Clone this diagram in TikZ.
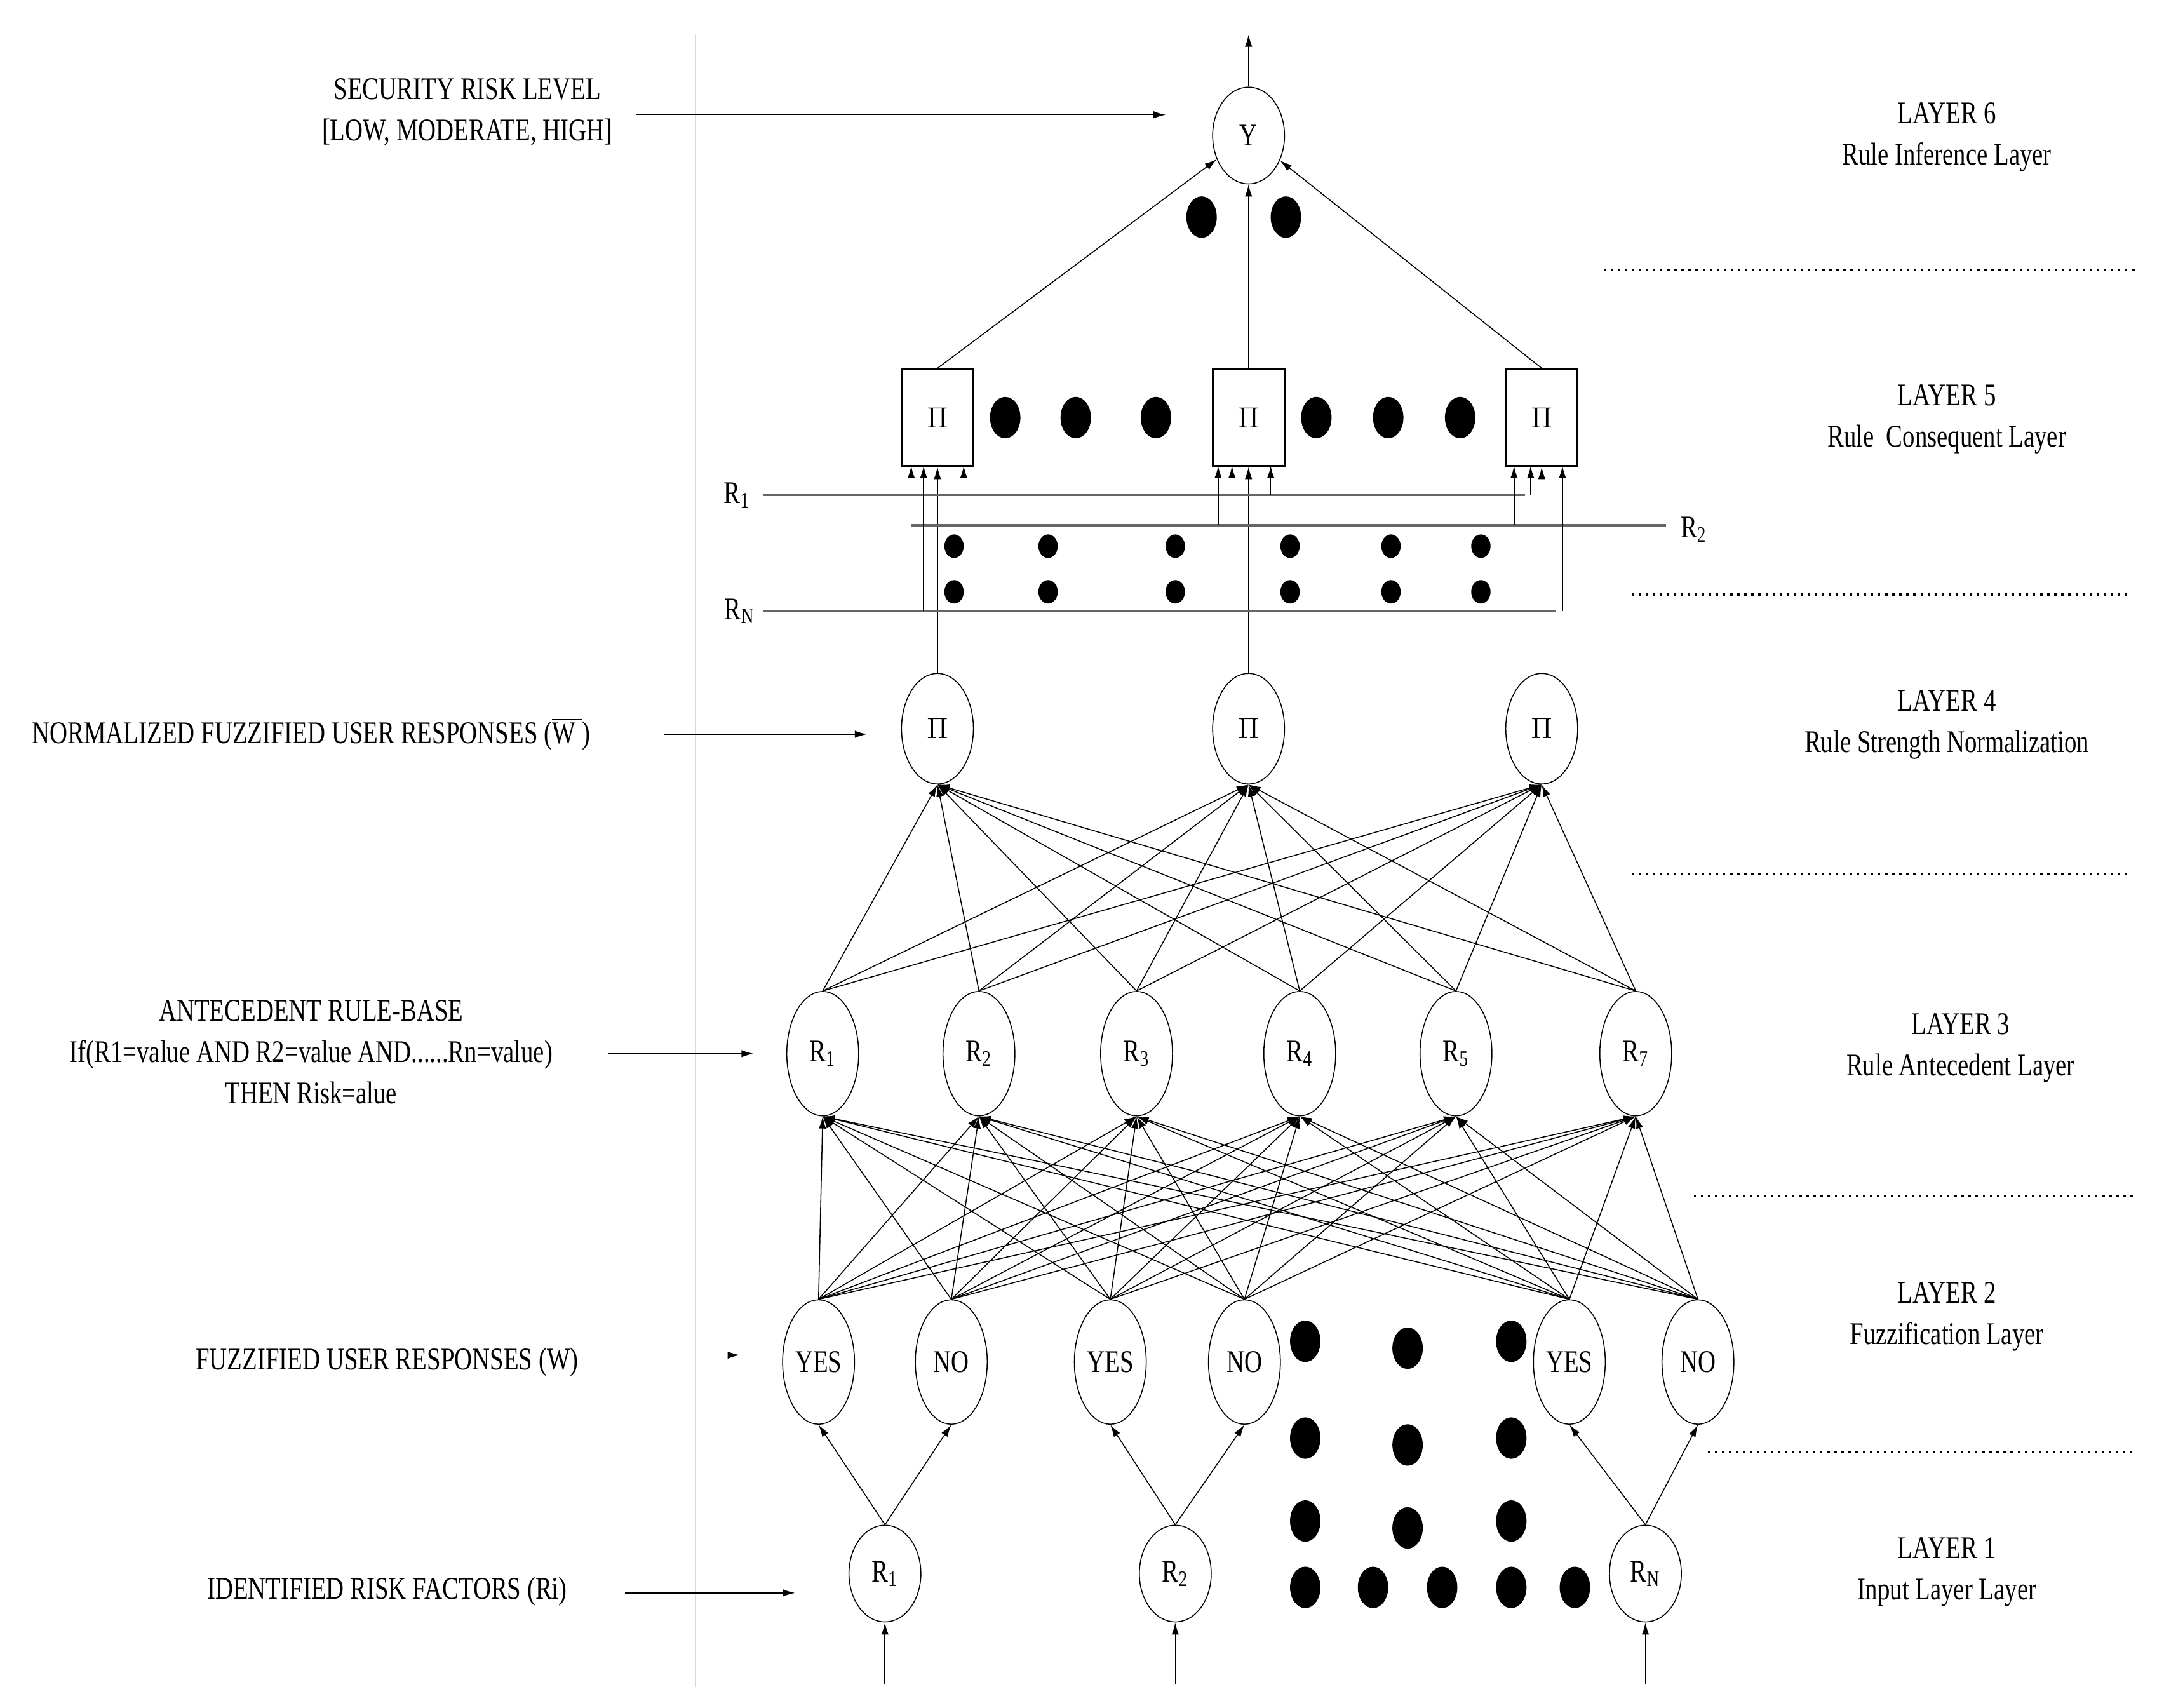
\documentclass[tikz,border=0pt]{standalone}
\usepackage{fontspec}
\setmainfont{Liberation Serif}[FakeStretch=0.78]
\usetikzlibrary{arrows.meta,shapes.geometric}
\begin{document}
\begin{tikzpicture}[x=0.02cm,y=-0.02cm,
  every node/.style={font=\fontsize{13}{15}\selectfont},
  e1/.style={draw,ellipse,minimum width=1.04cm,minimum height=1.4cm,inner sep=0pt},
  e2/.style={draw,ellipse,minimum width=1.04cm,minimum height=1.8cm,inner sep=0pt},
  e4/.style={draw,ellipse,minimum width=1.04cm,minimum height=1.6cm,inner sep=0pt},
  bx/.style={draw,thick,minimum width=1.04cm,minimum height=1.4cm,inner sep=0pt},
  dot/.style={fill,ellipse,minimum width=0.44cm,minimum height=0.6cm,inner sep=0pt},
  sdot/.style={fill,ellipse,minimum width=0.28cm,minimum height=0.34cm,inner sep=0pt},
  con/.style={-{Latex[length=5pt,width=3pt]}},
  rl/.style={draw=black!60,line width=1pt},
  sep/.style={dotted,line width=0.9pt},
  lbl/.style={align=center}]
\useasboundingbox (0,0) rectangle (1560,1235);
\draw[black!15] (503,25) -- (503,1220);
% Layer 1
\node[e1] (a1) at (640,1138) {R\textsubscript{1}};
\node[e1] (a2) at (850,1138) {R\textsubscript{2}};
\node[e1] (a3) at (1190,1138) {R\textsubscript{N}};
\coordinate (i1) at (640,1218); \coordinate (i2) at (850,1218); \coordinate (i3) at (1190,1218);
\foreach \k in {1,2,3} \draw[con] (i\k) -- (a\k);
% Layer 2
\node[e2] (b1) at (592,985) {YES};
\node[e2] (b2) at (688,985) {NO};
\node[e2] (b3) at (803,985) {YES};
\node[e2] (b4) at (900,985) {NO};
\node[e2] (b5) at (1135,985) {YES};
\node[e2] (b6) at (1228,985) {NO};
\draw[con] (a1.north) -- (b1.south); \draw[con] (a1.north) -- (b2.south);
\draw[con] (a2.north) -- (b3.south); \draw[con] (a2.north) -- (b4.south);
\draw[con] (a3.north) -- (b5.south); \draw[con] (a3.north) -- (b6.south);
% Layer 3
\node[e2] (c1) at (595,762) {R\textsubscript{1}};
\node[e2] (c2) at (708,762) {R\textsubscript{2}};
\node[e2] (c3) at (822,762) {R\textsubscript{3}};
\node[e2] (c4) at (940,762) {R\textsubscript{4}};
\node[e2] (c5) at (1053,762) {R\textsubscript{5}};
\node[e2] (c6) at (1183,762) {R\textsubscript{7}};
\foreach \i in {1,...,6}{\foreach \j in {1,...,6}{\draw[con] (b\i.north) -- (c\j.south);}}
% Layer 4
\node[e4] (d1) at (678,527) {$\Pi$};
\node[e4] (d2) at (903,527) {$\Pi$};
\node[e4] (d3) at (1115,527) {$\Pi$};
\foreach \i in {1,...,6}{\foreach \j in {1,2,3}{\draw[con] (c\i.north) -- (d\j.south);}}
% Layer 5
\node[bx] (p1) at (678,302) {$\Pi$};
\node[bx] (p2) at (903,302) {$\Pi$};
\node[bx] (p3) at (1115,302) {$\Pi$};
\foreach \j in {1,2,3}\draw[con] (d\j.north) -- (p\j.south);
% rule lines
\draw[rl] (552,358) -- (1103,358);
\draw[rl] (659,380) -- (1205,380);
\draw[rl] (552,442) -- (1125,442);
\node at (533,358) {R\textsubscript{1}};
\node at (1225,383) {R\textsubscript{2}};
\node at (535,442) {R\textsubscript{N}};
\foreach \x/\y in {659/380,668/442,697/358,881/380,891/442,919/358,1095/380,1107/358,1130/442}
  \draw[con] (\x,\y) -- (\x,337);
\foreach \x in {690,758,850,933,1006,1071}{\node[sdot] at (\x,395) {}; \node[sdot] at (\x,428) {};}
\foreach \x in {727,778,836,952,1004,1056} \node[dot] at (\x,302) {};
% Layer 6
\node[e1] (y) at (903,98) {Y};
\draw[con] (p1.north) -- (y);
\draw[con] (p2.north) -- (y);
\draw[con] (p3.north) -- (y);
\coordinate (out) at (903,25);
\draw[con] (y) -- (out);
\node[dot] at (869,157) {}; \node[dot] at (930,157) {};
% dots in lower region
\foreach \x/\y in {944/970,1018/975,1093/970,944/1040,1018/1045,1093/1040,944/1100,1018/1105,1093/1100,944/1148,993/1148,1043/1148,1093/1148,1139/1148}
  \node[dot] at (\x,\y) {};
% separators
\draw[sep] (1160,195) -- (1545,195);
\draw[sep] (1180,430) -- (1540,430);
\draw[sep] (1180,632) -- (1540,632);
\draw[sep] (1225,865) -- (1545,865);
\draw[sep] (1235,1050) -- (1545,1050);
% right labels
\node[lbl] at (1408,99) {LAYER 6\\[2pt]Rule Inference Layer};
\node[lbl] at (1408,303) {LAYER 5\\[2pt]Rule\ \ Consequent Layer};
\node[lbl] at (1408,524) {LAYER 4\\[2pt]Rule Strength Normalization};
\node[lbl] at (1418,758) {LAYER 3\\[2pt]Rule Antecedent Layer};
\node[lbl] at (1408,952) {LAYER 2\\[2pt]Fuzzification Layer};
\node[lbl] at (1408,1137) {LAYER 1\\[2pt]Input Layer Layer};
% left labels
\node[lbl] (t6) at (338,81) {SECURITY RISK LEVEL\\[2pt][LOW, MODERATE, HIGH]};
\coordinate (s6) at (460,83); \coordinate (e6) at (843,83);
\draw[con] (s6) -- (e6);
\node (t4) at (225,531) {NORMALIZED FUZZIFIED USER RESPONSES ($\overline{\mathrm{W}}$)};
\coordinate (s4) at (480,531); \coordinate (e4) at (627,531);
\draw[con] (s4) -- (e4);
\node[lbl] (t3) at (225,761) {ANTECEDENT RULE-BASE\\[2pt]If(R1=value AND R2=value AND......Rn=value)\\[2pt]THEN Risk=alue};
\coordinate (s3) at (440,762); \coordinate (e3) at (545,762);
\draw[con] (s3) -- (e3);
\node (t2) at (280,985) {FUZZIFIED USER RESPONSES (W)};
\coordinate (s2) at (470,980); \coordinate (e2) at (535,980);
\draw[con] (s2) -- (e2);
\node (t1) at (280,1151) {IDENTIFIED RISK FACTORS (Ri)};
\coordinate (s1) at (452,1152); \coordinate (e1) at (575,1152);
\draw[con] (s1) -- (e1);
\end{tikzpicture}
\end{document}
